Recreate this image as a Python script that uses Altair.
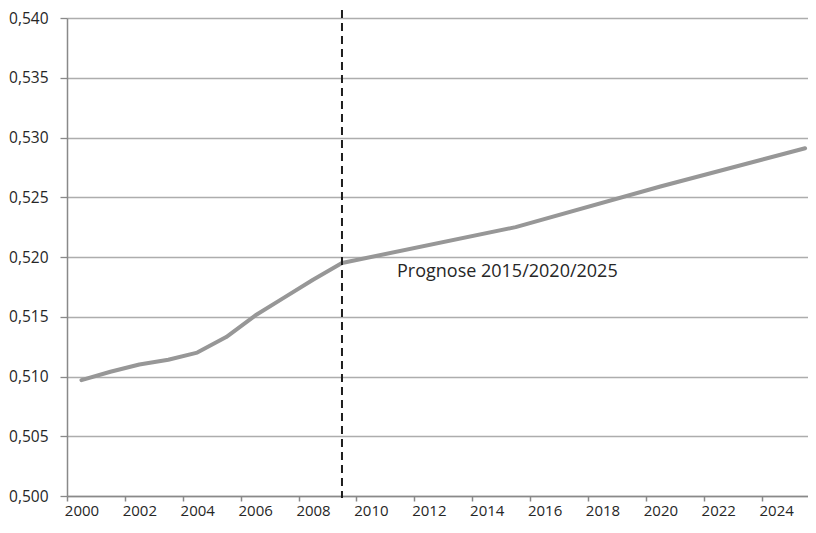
import altair as alt
import pandas as pd

years = [2000, 2001, 2002, 2003, 2004, 2005, 2006, 2007, 2008, 2009, 2015, 2020, 2025]
values = [0.5097, 0.5104, 0.5110, 0.5114, 0.5120, 0.5133, 0.5151, 0.5166, 0.5181, 0.5195,
          0.5225, 0.5259, 0.5291]
y_ticks = [0.500, 0.505, 0.510, 0.515, 0.520, 0.525, 0.530, 0.535, 0.540]
x_tick_years = list(range(2000, 2025))  # category boundaries drawn half a year before
forecast_start = 2009
note_text = "Prognose 2015/2020/2025"
note_x = 2010.9
note_y = 0.5183

FONT = "Open Sans"
TXT = "#262626"
W = 741
H = 478

df = pd.DataFrame({"year": years, "value": values})

x_scale = alt.Scale(domain=[1999.5, 2025.1], nice=False, zero=False)
y_scale = alt.Scale(domain=[0.5, 0.54], nice=False, zero=False)
step_px = W / (2025.1 - 1999.5)

x_axis = alt.Axis(
    values=[y - 0.5 for y in x_tick_years],
    labelExpr="((datum.value + 0.5) % 2 == 0) ? toString(datum.value + 0.5) : ''",
    labelOffset=step_px / 2,
    labelOverlap=False,
    labelFlush=False,
    grid=False,
    title=None,
    tickSize=5,
    tickColor="#898989",
    tickWidth=1.5,
    domainColor="#898989",
    domainWidth=1.5,
    labelFont=FONT,
    labelFontSize=15,
    labelColor=TXT,
    labelPadding=2,
)
y_axis = alt.Axis(
    values=y_ticks,
    labelExpr="replace(format(datum.value, '.3f'), '.', ',')",
    title=None,
    grid=True,
    gridColor="#adadad",
    gridWidth=1.3,
    tickSize=7,
    tickColor="#898989",
    tickWidth=1.3,
    domainColor="#898989",
    domainWidth=1.5,
    labelFont=FONT,
    labelFontSize=15.5,
    labelColor=TXT,
    labelPadding=12,
)

line = alt.Chart(df).mark_line(color="#979797", strokeWidth=4, strokeCap="round", strokeJoin="round").encode(
    x=alt.X("year:Q", scale=x_scale, axis=x_axis),
    y=alt.Y("value:Q", scale=y_scale, axis=y_axis),
)

rule_df = pd.DataFrame({"year": [forecast_start]})
rule = alt.Chart(rule_df).mark_rule(color="#1e1e1e", strokeWidth=2, strokeDash=[8, 5]).encode(
    x=alt.X("year:Q", scale=x_scale),
    y=alt.value(-8),
    y2=alt.value(H + 2),
)

note_df = pd.DataFrame({"year": [note_x], "value": [note_y], "label": [note_text]})
note = alt.Chart(note_df).mark_text(
    align="left", baseline="alphabetic", font=FONT, fontSize=18, color=TXT
).encode(
    x=alt.X("year:Q", scale=x_scale),
    y=alt.Y("value:Q", scale=y_scale),
    text="label:N",
)

chart = alt.layer(line, rule, note).properties(
    width=W,
    height=H,
    autosize=alt.AutoSizeParams(type="none"),
    padding={"left": 59, "top": 10, "right": 0, "bottom": 28},
).configure_view(stroke=None).configure(background="white")

chart.save("out.html", embed_options={"renderer": "svg", "actions": False})
